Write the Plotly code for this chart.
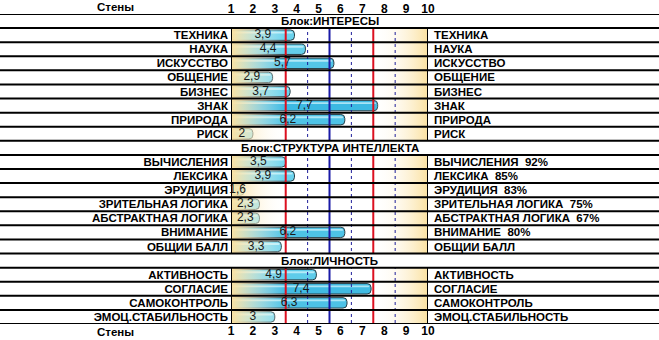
import plotly.graph_objects as go

# ---------------- data ----------------
blocks = ["Блок:ИНТЕРЕСЫ", "Блок:СТРУКТУРА ИНТЕЛЛЕКТА", "Блок:ЛИЧНОСТЬ"]

interest_labels = ["ТЕХНИКА", "НАУКА", "ИСКУССТВО", "ОБЩЕНИЕ", "БИЗНЕС", "ЗНАК", "ПРИРОДА", "РИСК"]
interest_values = [3.9, 4.4, 5.7, 2.9, 3.7, 7.7, 6.2, 2.0]

struct_labels = ["ВЫЧИСЛЕНИЯ", "ЛЕКСИКА", "ЭРУДИЦИЯ", "ЗРИТЕЛЬНАЯ ЛОГИКА",
                 "АБСТРАКТНАЯ ЛОГИКА", "ВНИМАНИЕ", "ОБЩИИ БАЛЛ"]
struct_values = [3.5, 3.9, 1.6, 2.3, 2.3, 6.2, 3.3]
struct_percent = ["92%", "85%", "83%", "75%", "67%", "80%", ""]

person_labels = ["АКТИВНОСТЬ", "СОГЛАСИЕ", "САМОКОНТРОЛЬ", "ЭМОЦ.СТАБИЛЬНОСТЬ"]
person_values = [4.9, 7.4, 6.3, 3.0]

axis_ticks = list(range(1, 11))
axis_title = "Стены"
red_lines = [3.5, 7.5]
blue_line = [5.5]
dashed_lines = [4.5, 6.5, 8.5]
low_zone = [1, 3.5]
high_zone = [7.5, 10]

# ---------------- layout constants ----------------
W, H = 659, 340
L, R, T, B = 231, 231, 14, 16
PW = W - L - R
PH = H - T - B
FONT = "Liberation Sans, Arial, sans-serif"
YELLOW = "#fbe1a0"

# build rows
rows_y, left_txt, right_txt, vals, header_rows = [], [], [], [], []
r = 0
groups = [
    (interest_labels, interest_values, [""] * len(interest_labels)),
    (struct_labels, struct_values, struct_percent),
    (person_labels, person_values, [""] * len(person_labels)),
]
for bname, (labs, vs, pcts) in zip(blocks, groups):
    header_rows.append((r, bname))
    r += 1
    for lab, v, p in zip(labs, vs, pcts):
        rows_y.append(r)
        left_txt.append(lab)
        right_txt.append(lab + ("\u00a0\u00a0" + p if p else ""))
        vals.append(v)
        r += 1
n_rows = r
y0, y1 = -0.5, n_rows - 0.5
base = axis_ticks[0]

fig = go.Figure()

# background gradients
fig.add_trace(go.Scatter(
    x=[low_zone[0], low_zone[1], low_zone[1], low_zone[0], low_zone[0]],
    y=[y0, y0, y1, y1, y0], mode="none", fill="toself",
    fillgradient=dict(type="horizontal", colorscale=[[0, YELLOW], [1, "rgba(255,255,255,0)"]]),
    hoverinfo="skip", showlegend=False))
fig.add_trace(go.Scatter(
    x=[high_zone[0], high_zone[1], high_zone[1], high_zone[0], high_zone[0]],
    y=[y0, y0, y1, y1, y0], mode="none", fill="toself",
    fillgradient=dict(type="horizontal", colorscale=[[0, "rgba(255,255,255,0)"], [1, YELLOW]]),
    hoverinfo="skip", showlegend=False))


def vlines(xs):
    xx, yy = [], []
    for x in xs:
        xx += [x, x, None]
        yy += [y0, y1, None]
    return xx, yy


xx, yy = vlines(dashed_lines)
fig.add_trace(go.Scatter(x=xx, y=yy, mode="lines", line=dict(color="#1f1f9a", width=1, dash="3px,3px"),
                         hoverinfo="skip", showlegend=False))
xx, yy = vlines(red_lines)
fig.add_trace(go.Scatter(x=xx, y=yy, mode="lines", line=dict(color="#dc1020", width=2),
                         hoverinfo="skip", showlegend=False))
xx, yy = vlines(blue_line)
fig.add_trace(go.Scatter(x=xx, y=yy, mode="lines", line=dict(color="#1a1aa6", width=2),
                         hoverinfo="skip", showlegend=False))

# bars
fig.add_trace(go.Bar(
    orientation="h", y=rows_y, x=[v - base for v in vals], base=base, width=0.74,
    marker=dict(color=vals, colorscale=[[0, "#8ee6f5"], [1, "#2cb0de"]], cmin=1, cmax=9,
                line=dict(color="#2a3f46", width=1)),
    hoverinfo="skip", showlegend=False))
# highlight stripe
fig.add_trace(go.Bar(
    orientation="h", y=rows_y, x=[v - base - 0.08 for v in vals], base=base, width=0.13, offset=-0.24,
    marker=dict(color="rgba(225,250,255,0.65)", line=dict(width=0)),
    hoverinfo="skip", showlegend=False))
# value labels centred on bars
fig.add_trace(go.Scatter(
    x=[(base + v) / 2 for v in vals], y=rows_y, mode="text",
    text=[f"{v:g}".replace(".", ",") for v in vals],
    textposition="middle center", textfont=dict(family=FONT, size=12, color="#1a1a1a"),
    hoverinfo="skip", showlegend=False, cliponaxis=False))
# dummy traces for right and top axes
fig.add_trace(go.Scatter(x=[base], y=[rows_y[0]], yaxis="y2", mode="markers",
                         marker=dict(opacity=0), hoverinfo="skip", showlegend=False))
fig.add_trace(go.Scatter(x=[base], y=[rows_y[0]], xaxis="x2", mode="markers",
                         marker=dict(opacity=0), hoverinfo="skip", showlegend=False))

shapes = []
# vertical borders of plot area
for xb in (axis_ticks[0], axis_ticks[-1]):
    shapes.append(dict(type="line", xref="x", yref="y", x0=xb, x1=xb, y0=y0, y1=y1,
                       line=dict(color="black", width=2), layer="above"))
# header rows white
for hr, _ in header_rows:
    shapes.append(dict(type="rect", xref="x", yref="y", x0=axis_ticks[0] - 0.1, x1=axis_ticks[-1] + 0.1,
                       y0=hr - 0.5, y1=hr + 0.5, fillcolor="white", line=dict(width=0), layer="above"))
# horizontal row lines full width
px0 = -L / PW
px1 = 1 + R / PW
for k in range(n_rows + 1):
    shapes.append(dict(type="line", xref="paper", yref="y", x0=px0, x1=px1, y0=k - 0.5, y1=k - 0.5,
                       line=dict(color="black", width=2), layer="above"))

annotations = []
for hr, name in header_rows:
    annotations.append(dict(xref="paper", yref="y", x=0.5, y=hr, text=name, showarrow=False,
                            font=dict(family=FONT, size=11.5, color="black", weight="bold"),
                            xanchor="center", yanchor="middle"))
for yy_ in (1 + 7 / PH, -8 / PH):
    annotations.append(dict(xref="paper", yref="paper", x=(115 - L) / PW, y=yy_, text=axis_title,
                            showarrow=False, font=dict(family=FONT, size=11.5, color="black", weight="bold"),
                            xanchor="center", yanchor="middle"))

tickfont = dict(family=FONT, size=12, color="black", weight="bold")
labfont = dict(family=FONT, size=11.5, color="black", weight="bold")

fig.update_layout(
    width=W, height=H, margin=dict(l=L, r=R, t=T, b=B, autoexpand=False),
    paper_bgcolor="white", plot_bgcolor="white",
    barmode="overlay", barcornerradius=4,
    shapes=shapes, annotations=annotations,
    xaxis=dict(range=[axis_ticks[0], axis_ticks[-1]], tickvals=axis_ticks, ticks="", showgrid=False,
               zeroline=False, showline=False, tickfont=tickfont, ticklabelstandoff=-2,
               automargin=False, fixedrange=True),
    xaxis2=dict(overlaying="x", matches="x", side="top", tickvals=axis_ticks, ticks="", showgrid=False,
                zeroline=False, showline=False, tickfont=tickfont, ticklabelstandoff=-2, automargin=False),
    yaxis=dict(range=[y1, y0], tickvals=rows_y, ticktext=left_txt, ticks="", showgrid=False,
               zeroline=False, showline=False, tickfont=labfont, ticklabelstandoff=2, automargin=False),
    yaxis2=dict(overlaying="y", matches="y", side="right", tickvals=rows_y, ticktext=right_txt, ticks="",
                showgrid=False, zeroline=False, showline=False, tickfont=labfont, ticklabelstandoff=5,
                automargin=False),
)

fig.write_html("out.html")
